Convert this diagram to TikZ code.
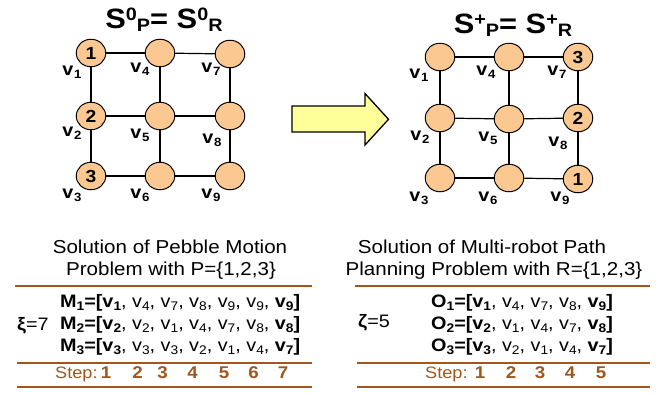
\documentclass[tikz,border=0pt]{standalone}
\usepackage{fontspec}
\setmainfont{Liberation Sans}[FakeStretch=1.1]
\usetikzlibrary{shapes.geometric}
\definecolor{peach}{HTML}{FAC890}
\definecolor{lemon}{HTML}{FFFF99}
\definecolor{rust}{HTML}{A0561E}
% raised / lowered index text: [size]{shift}{text}
\newcommand\lo[3][12.5]{\raisebox{-#2pt}{\fontsize{#1}{#1}\selectfont #3}}
\newcommand\hi[3][18]{\raisebox{#2pt}{\fontsize{#1}{#1}\selectfont #3}}
\newcommand\ix[1]{\lo[12.5]{3}{#1}}
\newcommand\vx[1]{v\kern0.8pt\lo[12]{3}{#1}}
\begin{document}
\begin{tikzpicture}[x=1pt,y=-1pt,
  vert/.style={ellipse,draw=black,line width=1pt,fill=peach,minimum width=29.5pt,
    minimum height=27.5pt,inner sep=0pt,font=\fontsize{17.5}{17.5}\selectfont\bfseries},
  edge/.style={line width=1.2pt},
  vlab/.style={inner sep=0pt,font=\fontsize{18}{18}\selectfont\bfseries},
  ttl/.style={inner sep=0pt,anchor=base,font=\fontsize{28}{28}\selectfont\bfseries},
  captext/.style={inner sep=0pt,anchor=base,font=\fontsize{18.7}{18.7}\selectfont},
  seq/.style={inner sep=0pt,anchor=base west,font=\fontsize{18}{18}\selectfont},
  rule/.style={draw=rust,line width=2pt},
  stp/.style={inner sep=0pt,anchor=base,text=rust,font=\fontsize{17}{17}\selectfont\bfseries},
  stplab/.style={inner sep=0pt,anchor=base west,text=rust,font=\fontsize{16.5}{16.5}\selectfont}]
\useasboundingbox (0,0) rectangle (669,392);

% ---------- initial configuration ----------
\node[ttl] (t0) at (164,28) {S\hi{8}{0}\lo[18]{3.5}{P}= S\hi{8}{0}\lo[18]{3.5}{R}};
\node[vert] (a1) at (91,53) {1};
\node[vert] (a2) at (91,116) {2};
\node[vert] (a3) at (91,176) {3};
\node[vert] (a4) at (160,53) {};
\node[vert] (a5) at (160,116) {};
\node[vert] (a6) at (160,176) {};
\node[vert] (a7) at (230,54) {};
\node[vert] (a8) at (230,116) {};
\node[vert] (a9) at (230,176) {};
\foreach \u/\v in {a1/a4,a4/a7,a2/a5,a5/a8,a3/a6,a6/a9,a1/a2,a2/a3,a4/a5,a5/a6,a7/a8,a8/a9}
  \draw[edge] (\u) -- (\v);
\node[vlab] (la1) at (72,72) {\vx{1}};
\node[vlab] (la4) at (140,69) {\vx{4}};
\node[vlab] (la7) at (211,69) {\vx{7}};
\node[vlab] (la2) at (72,133) {\vx{2}};
\node[vlab] (la5) at (140,135) {\vx{5}};
\node[vlab] (la8) at (212,140) {\vx{8}};
\node[vlab] (la3) at (72,195) {\vx{3}};
\node[vlab] (la6) at (140,195) {\vx{6}};
\node[vlab] (la9) at (211,195) {\vx{9}};

% ---------- goal configuration ----------
\node[ttl] (t1) at (513,33) {S\hi{8}{+}\lo[18]{3.5}{P}= S\hi{8}{+}\lo[18]{3.5}{R}};
\node[vert] (b1) at (440,57) {};
\node[vert] (b2) at (440,118) {};
\node[vert] (b3) at (440,178) {};
\node[vert] (b4) at (509,57) {};
\node[vert] (b5) at (509,119) {};
\node[vert] (b6) at (509,178) {};
\node[vert] (b7) at (578,57) {3};
\node[vert] (b8) at (578,118) {2};
\node[vert] (b9) at (578,179) {1};
\foreach \u/\v in {b1/b4,b4/b7,b2/b5,b5/b8,b3/b6,b6/b9,b1/b2,b2/b3,b4/b5,b5/b6,b7/b8,b8/b9}
  \draw[edge] (\u) -- (\v);
\node[vlab] (lb1) at (419,75) {\vx{1}};
\node[vlab] (lb4) at (486,72) {\vx{4}};
\node[vlab] (lb7) at (557,72) {\vx{7}};
\node[vlab] (lb2) at (420,137) {\vx{2}};
\node[vlab] (lb5) at (488,138) {\vx{5}};
\node[vlab] (lb8) at (558,143) {\vx{8}};
\node[vlab] (lb3) at (419,198) {\vx{3}};
\node[vlab] (lb6) at (488,198) {\vx{6}};
\node[vlab] (lb9) at (560,198) {\vx{9}};

% ---------- block arrow ----------
\draw[line width=1.3pt,fill=lemon,line join=miter]
  (292,106) -- (365,106) -- (365,93.5) -- (388.5,119.3) -- (365,145) -- (365,132) -- (292,132) -- cycle;

% ---------- pebble motion solution ----------
\node[captext] (pc1) at (170,253) {Solution of Pebble Motion};
\node[captext] (pc2) at (171,275) {Problem with P=\{1,2,3\}};
\draw[rule] (15,286) -- (312,286);
\node[seq] (m1) at (60,307) {\textbf{M\ix{1}=[v\ix{1}}, v\ix{4}, v\ix{7}, v\ix{8}, v\ix{9}, v\ix{9}, \textbf{v\ix{9}]}};
\node[seq] (m2) at (60,329) {\textbf{M\ix{2}=[v\ix{2}}, v\ix{2}, v\ix{1}, v\ix{4}, v\ix{7}, v\ix{8}, \textbf{v\ix{8}]}};
\node[seq] (m3) at (60,351) {\textbf{M\ix{3}=[v\ix{3}}, v\ix{3}, v\ix{3}, v\ix{2}, v\ix{1}, v\ix{4}, \textbf{v\ix{7}]}};
\node[seq] (xi) at (17,330) {\textbf{ξ}=7};
\draw[rule] (17,362.7) -- (312,362.7);
\node[stplab] (ps) at (55,378) {Step:};
\foreach \n/\x in {1/106,2/137.5,3/162.5,4/192.5,5/224,6/253.5,7/283}
  \node[stp] (ps\n) at (\x,378) {\n};
\draw[rule] (17,387.3) -- (312,387.3);

% ---------- multi-robot path planning solution ----------
\node[captext] (rc1) at (482,253) {Solution of Multi-robot Path};
\node[captext] (rc2) at (494,275) {Planning Problem with R=\{1,2,3\}};
\draw[rule] (355,286) -- (650,286);
\node[seq] (o1) at (431,307) {\textbf{O\ix{1}=[v\ix{1}}, v\ix{4}, v\ix{7}, v\ix{8}, \textbf{v\ix{9}]}};
\node[seq] (o2) at (431,329) {\textbf{O\ix{2}=[v\ix{2}}, v\ix{1}, v\ix{4}, v\ix{7}, \textbf{v\ix{8}]}};
\node[seq] (o3) at (431,351) {\textbf{O\ix{3}=[v\ix{3}}, v\ix{2}, v\ix{1}, v\ix{4}, \textbf{v\ix{7}]}};
\node[seq] (ze) at (358,327) {\textbf{ζ}=5};
\draw[rule] (357,362.7) -- (650,362.7);
\node[stplab] (rs) at (425,378) {Step:};
\foreach \n/\x in {1/480,2/511,3/540,4/570,5/601}
  \node[stp] (rs\n) at (\x,378) {\n};
\draw[rule] (357,387.3) -- (650,387.3);
\end{tikzpicture}
\end{document}
